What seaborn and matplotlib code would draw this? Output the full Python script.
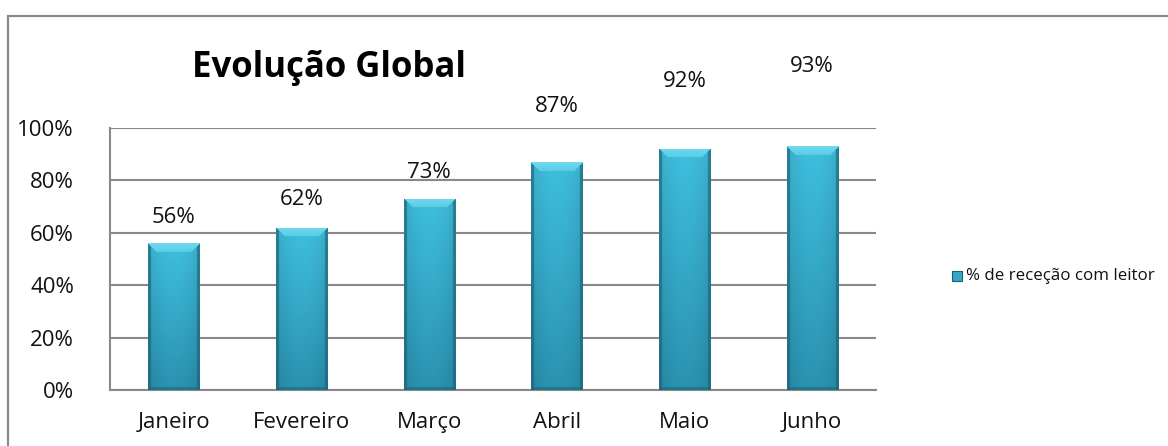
import numpy as np
import pandas as pd
import matplotlib
matplotlib.use("Agg")
import matplotlib.pyplot as plt
from matplotlib.patches import Rectangle
import seaborn as sns

# Chart data
months = ["Janeiro", "Fevereiro", "Março", "Abril", "Maio", "Junho"]
reception_pct = [56, 62, 73, 87, 92, 93]
series_name = "% de receção com leitor"
y_ticks = [0, 20, 40, 60, 80, 100]
title = "Evolução Global"

# Vertical gap (pixels) between each bar top and its value label
label_gap_px = [26, 28, 26, 56, 67, 80]

sns.set_theme(style="white")
plt.rcParams["font.family"] = ["Open Sans", "DejaVu Sans"]

W, H, DPI = 1168, 446, 100
fig = plt.figure(figsize=(W / DPI, H / DPI), dpi=DPI)
fig.patch.set_facecolor("white")

# Outer chart frame (runs off the right and bottom edges)
fig.add_artist(Rectangle((8 / W, -0.1), 1.2, 1 - 16 / H + 0.1,
                         transform=fig.transFigure, fill=False,
                         edgecolor="#8a8a8a", linewidth=1.6))

ax_l, ax_r, ax_t, ax_b = 110, 876, 128, 390
ax = fig.add_axes([ax_l / W, 1 - ax_b / H, (ax_r - ax_l) / W, (ax_b - ax_t) / H])

df = pd.DataFrame({"month": months, "pct": reception_pct})
base_color = "#33a9c8"
sns.barplot(data=df, x="month", y="pct", color=base_color, width=0.4,
            ax=ax, zorder=3, linewidth=0, saturation=1)

ax.set_xlim(-0.5, len(months) - 0.5)
ax.set_ylim(0, 100)
ax.set_yticks(y_ticks)
ax.set_yticklabels([f"{v}%" for v in y_ticks])
ax.set_xlabel("")
ax.set_ylabel("")

tick_fs = 16
grid_c = "#888888"
ax.yaxis.grid(True, color=grid_c, linewidth=1.5, zorder=0)
ax.xaxis.grid(False)
for s in ("top", "right"):
    ax.spines[s].set_visible(False)
for s in ("left", "bottom"):
    ax.spines[s].set_color(grid_c)
    ax.spines[s].set_linewidth(1.5)

ax.tick_params(axis="y", which="major", length=8, width=1.5, color=grid_c,
               direction="out", pad=18, labelsize=tick_fs, labelcolor="#111111")
ax.tick_params(axis="x", which="major", length=0, pad=16,
               labelsize=tick_fs, labelcolor="#111111")
ax.set_xticks(np.arange(-0.5, len(months) + 0.5, 1), minor=True)
ax.tick_params(axis="x", which="minor", length=7, width=1.5, color=grid_c,
               direction="out")

# Shaded, bevelled fill for every bar
top_light = np.array([0x6f, 0xd9, 0xee]) / 255
body_top = np.array([0x3f, 0xbf, 0xde]) / 255
body_bot = np.array([0x2a, 0x92, 0xb0]) / 255
edge_dark = np.array([0x1c, 0x5f, 0x73]) / 255

fig.canvas.draw()
for patch in ax.patches:
    bb = patch.get_window_extent()
    wpx, hpx = int(round(bb.width)), int(round(bb.height))
    if wpx < 2 or hpx < 2:
        continue
    yy, xx = np.mgrid[0:hpx, 0:wpx]
    t = yy / max(hpx - 1, 1)
    img = body_top[None, None, :] * (1 - t[..., None]) + body_bot[None, None, :] * t[..., None]
    # horizontal shading: slightly lighter toward the centre
    u = xx / max(wpx - 1, 1)
    shade = 1.0 - 0.10 * (np.abs(u - 0.5) * 2) ** 2
    img = img * shade[..., None]
    d_top = yy
    d_bot = hpx - 1 - yy
    d_left = xx
    d_right = wpx - 1 - xx
    d_side = np.minimum(d_left, d_right)
    bevel = 9
    top_mask = (d_top < bevel) & (d_top <= d_side)
    frac = d_top[top_mask][:, None] / bevel
    img[top_mask] = top_light * (1 - 0.5 * frac) + body_top * 0.5 * frac
    side_mask = (d_side < 3) & ~top_mask
    img[side_mask] = edge_dark * 0.6 + img[side_mask] * 0.4
    bot_mask = (d_bot < 3) & (d_bot < d_side)
    img[bot_mask] = edge_dark * 0.5 + img[bot_mask] * 0.5
    x0 = patch.get_x()
    x1 = x0 + patch.get_width()
    y0 = patch.get_y()
    y1 = y0 + patch.get_height()
    im = ax.imshow(np.clip(img, 0, 1), extent=(x0, x1, y0, y1), origin="upper",
                   aspect="auto", zorder=4, interpolation="bilinear")
    im.set_clip_path(patch)

ax.set_xlim(-0.5, len(months) - 0.5)
ax.set_ylim(0, 100)

# Value labels
for i, (v, gap) in enumerate(zip(reception_pct, label_gap_px)):
    ax.annotate(f"{v}%", xy=(i, v), xytext=(0, gap * 72 / DPI),
                textcoords="offset points", ha="center", va="center",
                fontsize=tick_fs, color="#111111", zorder=6, annotation_clip=False)

# Title
fig.text(329 / W, 1 - 68 / H, title, ha="center", va="center",
         fontsize=25, fontweight="bold", color="black")

# Legend
sq = 10
fig.add_artist(Rectangle((952 / W, 1 - (276 + sq / 2) / H), sq / W, sq / H,
                         transform=fig.transFigure, facecolor=base_color,
                         edgecolor="#1c5f73", linewidth=0.8))
fig.text(966 / W, 1 - 276 / H, series_name, ha="left", va="center",
         fontsize=12.2, color="#111111")

fig.savefig("out.png", dpi=DPI)
